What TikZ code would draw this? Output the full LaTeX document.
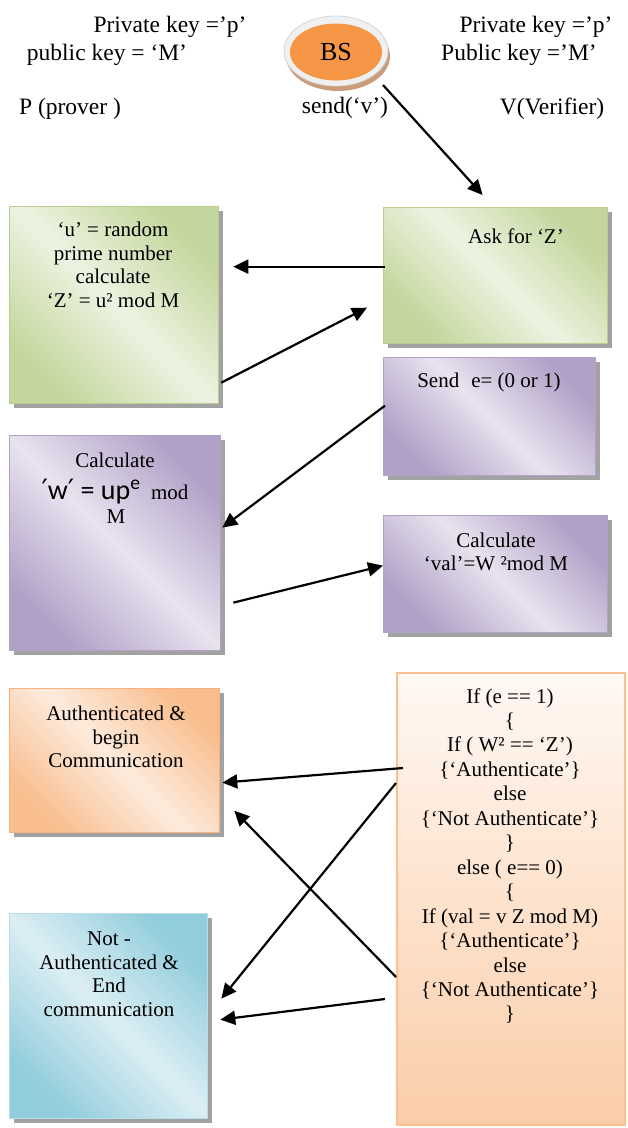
\documentclass[tikz,border=0pt]{standalone}
\usepackage{fontspec}
\setmainfont{Liberation Serif}
\newfontfamily\eqfont{Carlito}
\newfontfamily\primefont{DejaVu Sans}
\usetikzlibrary{arrows.meta,shadows,shapes.geometric}

\definecolor{greendark}{HTML}{C3D69B}
\definecolor{greenlight}{HTML}{EDF3E2}
\definecolor{greenedge}{HTML}{BACF8F}
\definecolor{purpledark}{HTML}{B1A0C7}
\definecolor{purplelight}{HTML}{E8E3EF}
\definecolor{purpleedge}{HTML}{B3A2C7}
\definecolor{orangedark}{HTML}{F9BE8E}
\definecolor{orangelight}{HTML}{FDEBDD}
\definecolor{orangeedge}{HTML}{F7B27F}
\definecolor{bluedark}{HTML}{92CDDC}
\definecolor{bluelight}{HTML}{DCEEF4}
\definecolor{blueedge}{HTML}{B7DEE8}
\definecolor{peachtop}{HTML}{FFF8F3}
\definecolor{peachbottom}{HTML}{FBCDA8}
\definecolor{peachedge}{HTML}{FAC090}
\definecolor{shadowgray}{HTML}{A2A2A2}
\definecolor{bsorange}{HTML}{F79646}
\definecolor{bsring}{HTML}{F0F0F0}
\definecolor{bsringedge}{HTML}{D6D6D6}
\definecolor{bsshadow}{HTML}{C99C7C}

\begin{document}
\begin{tikzpicture}[x=1pt,y=-1pt,
  box/.style={draw, line width=1.3pt, anchor=north west, inner sep=0pt,
    general shadow={fill=shadowgray, shadow xshift=4pt, shadow yshift=-4pt}},
  greenbox/.style={box, draw=greenedge, left color=greendark, right color=greendark,
    middle color=greenlight, shading angle=135},
  purplebox/.style={box, draw=purpleedge, left color=purpledark, right color=purpledark,
    middle color=purplelight, shading angle=135},
  orangebox/.style={box, draw=orangeedge, left color=orangedark, right color=orangedark,
    middle color=orangelight, shading angle=135},
  bluebox/.style={box, draw=blueedge, left color=bluedark, right color=bluedark,
    middle color=bluelight, shading angle=135},
  peachbox/.style={draw=peachedge, line width=2pt, anchor=north west, inner sep=0pt,
    top color=peachtop, bottom color=peachbottom},
  txt/.style={font=\fontsize{21}{23.5}\selectfont, align=center, inner sep=0pt},
  head/.style={font=\fontsize{23.5}{27}\selectfont, inner sep=0pt},
  arr/.style={line width=2.2pt, -{Triangle[length=15pt,width=14pt]}}
]
\useasboundingbox (0,0) rectangle (627,1128);

% base station
\node[ellipse, fill=bsshadow, minimum width=104pt, minimum height=70pt, inner sep=0pt]
  (bsshade) at (338,56) {};
\node[ellipse, fill=bsring, draw=bsringedge, line width=0.8pt,
  minimum width=104pt, minimum height=70pt, inner sep=0pt] (bs) at (336,51) {};
\node[ellipse, fill=bsorange, minimum width=92pt, minimum height=57pt, inner sep=0pt,
  font=\fontsize{26}{26}\selectfont] (bscore) at (336,52) {BS};

% party keys and roles
\node[head] (pkp) at (170,27) {Private key =’p’};
\node[head] (pkm) at (107,55) {public key = ‘M’};
\node[head] (vkp) at (536,27) {Private key =’p’};
\node[head] (vkm) at (519,55) {Public key =’M’};
\node[head] (prover) at (70,109) {P (prover )};
\node[head] (send) at (345,108) {send(‘v’)};
\node[head] (verifier) at (552,109) {V(Verifier)};

% protocol boxes
\node[greenbox, minimum width=209pt, minimum height=197pt] (gL) at (9,206) {};
\node[greenbox, minimum width=224pt, minimum height=136pt] (gR) at (383,207) {};
\node[purplebox, minimum width=212pt, minimum height=118pt] (pS) at (383,357) {};
\node[purplebox, minimum width=211pt, minimum height=215pt] (pL) at (9,435) {};
\node[purplebox, minimum width=224pt, minimum height=117pt] (pV) at (383,515) {};
\node[orangebox, minimum width=210pt, minimum height=144pt] (oL) at (9,688) {};
\node[peachbox, minimum width=228pt, minimum height=452pt] (oR) at (396,672) {};
\node[bluebox, minimum width=198pt, minimum height=205pt] (bL) at (9,913) {};

% box texts
\node[txt] (gLt) at (113,265) {‘u’ = random\\prime number\\calculate\\‘Z’ = u² mod M};
\node[txt] (gRt) at (516,236) {Ask for ‘Z’};
\node[txt] (pSt) at (489,382) {Send\hspace{12pt}e= (0 or 1)};
\node[txt] (pLt1) at (115,460) {Calculate};
\node[txt, anchor=base] (pLt2) at (115,499)
  {{\fontsize{28}{28}\selectfont\primefont ′\eqfont w\primefont ′\eqfont\ = up\textsuperscript{e}}\ \ mod};
\node[txt] (pLt3) at (116,517) {M};
\node[txt] (pVt) at (496,552) {Calculate\\‘val’=W ²mod M};
\node[txt] (oLt) at (116,737) {Authenticated \&\\begin\\Communication};
\node[txt] (bLt) at (109,974) {Not -\\Authenticated \&\\End\\communication};
\node[txt, font=\fontsize{21}{24.45}\selectfont] (oRt) at (510,856)
  {If (e == 1)\\ \{\\ If ( W² == ‘Z’)\\ \{‘Authenticate’\}\\ else\\
   \{‘Not Authenticate’\}\\ \}\\ else ( e== 0)\\ \{\\ If (val = v Z mod M)\\
   \{‘Authenticate’\}\\ else\\ \{‘Not Authenticate’\}\\ \}};

% message flow
\draw[arr] ([shift={(47,34)}]bs.center) -- ([shift={(-13,-12)}]gR.north);
\draw[arr] ([shift={(2,-9)}]gR.west) -- ([shift={(14,-38.5)}]gL.east);
\draw[arr] ([shift={(2,77.5)}]gL.east) -- ([shift={(-16,32)}]gR.west);
\draw[arr] ([shift={(2,-11)}]pS.west) -- ([shift={(1,-15.5)}]pL.east);
\draw[arr] ([shift={(12,59.5)}]pL.east) -- ([shift={(0,-8.5)}]pV.west);
\draw[arr] ([shift={(7,-131)}]oR.west) -- ([shift={(2,22)}]oL.east);
\draw[arr] ([shift={(0,-116)}]oR.west) -- ([shift={(13,-17.5)}]bL.east);
\draw[arr] ([shift={(0,78)}]oR.west) -- ([shift={(14,50)}]oL.east);
\draw[arr] ([shift={(-11,100)}]oR.west) -- ([shift={(12,3.5)}]bL.east);
\end{tikzpicture}
\end{document}
